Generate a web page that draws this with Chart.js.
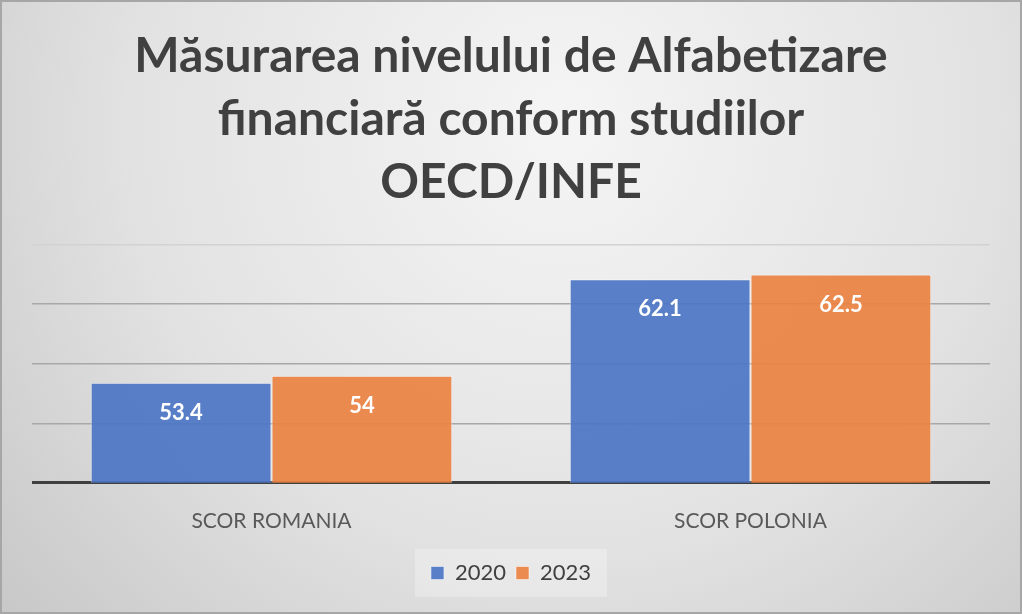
<!DOCTYPE html>
<html>
<head>
<meta charset="utf-8">
<script src="https://cdn.jsdelivr.net/npm/chart.js@4.4.1/dist/chart.umd.min.js"></script>
<style>
  html, body { margin: 0; padding: 0; background: #dcdcdc; }
  canvas { display: block; }
</style>
</head>
<body>
<canvas id="myChart" width="1022" height="614"></canvas>
<script>
const titleLines = ["Măsurarea nivelului de Alfabetizare", "financiară conform studiilor", "OECD/INFE"];
const categories = ["SCOR ROMANIA", "SCOR POLONIA"];
const seriesNames = ["2020", "2023"];
const values2020 = [53.4, 62.1];
const values2023 = [54, 62.5];
const labels2020 = ["53.4", "62.1"];
const labels2023 = ["54", "62.5"];

const FONT = "Lato, 'Open Sans', sans-serif";

// background gradient + frame + legend box
const backgroundPlugin = {
    id: 'bgPlugin',
    beforeDraw(chart) {
        const ctx = chart.ctx;
        const w = chart.width, h = chart.height;
        ctx.save();
        const g = ctx.createRadialGradient(w * 0.55, h * 0.2, 20, w * 0.55, h * 0.2, w * 0.75);
        g.addColorStop(0, '#f4f4f4');
        g.addColorStop(0.55, '#e2e2e2');
        g.addColorStop(1, '#c6c6c6');
        ctx.fillStyle = g;
        ctx.fillRect(0, 0, w, h);
        ctx.strokeStyle = '#a6a6a6';
        ctx.lineWidth = 2;
        ctx.strokeRect(1, 1, w - 2, h - 2);
        const lg = chart.legend;
        if (lg) {
            const cy = lg.top + lg.height / 2;
            ctx.fillStyle = 'rgba(255,255,255,0.28)';
            ctx.fillRect(lg.left + lg.width / 2 - 96, cy - 24, 192, 48);
        }
        ctx.restore();
    }
};

// value labels inside the top of the bars
const valueLabels = {
    id: 'valueLabels',
    afterDatasetsDraw(chart) {
        const ctx = chart.ctx;
        const texts = [labels2020, labels2023];
        ctx.save();
        ctx.font = "bold 22px " + FONT;
        ctx.fillStyle = '#ffffff';
        ctx.textAlign = 'center';
        ctx.textBaseline = 'middle';
        chart.data.datasets.forEach((ds, i) => {
            chart.getDatasetMeta(i).data.forEach((bar, j) => {
                ctx.fillText(texts[i][j], bar.x, bar.y + 30);
            });
        });
        ctx.restore();
    }
};

const ctx = document.getElementById('myChart').getContext('2d');
new Chart(ctx, {
    type: 'bar',
    data: {
        labels: categories,
        datasets: [
            {
                label: seriesNames[0],
                data: values2020,
                backgroundColor: 'rgba(76,117,198,0.92)',
                borderColor: 'rgba(255,255,255,0.5)',
                borderWidth: 1,
                categoryPercentage: 0.755,
                barPercentage: 1.0
            },
            {
                label: seriesNames[1],
                data: values2023,
                backgroundColor: 'rgba(236,130,66,0.92)',
                borderColor: 'rgba(255,255,255,0.5)',
                borderWidth: 1,
                categoryPercentage: 0.755,
                barPercentage: 1.0
            }
        ]
    },
    options: {
        responsive: false,
        animation: false,
        layout: { padding: { left: 32, right: 32, top: 0, bottom: 20 } },
        scales: {
            x: {
                grid: { display: false },
                border: { display: false },
                ticks: { color: '#595959', font: { family: FONT, size: 21 }, padding: 18 }
            },
            y: {
                min: 45,
                max: 65,
                ticks: { display: false, stepSize: 5 },
                border: { display: false },
                grid: {
                    drawTicks: false,
                    color: c => c.tick.value === 45 ? '#3f3f3f' : (c.tick.value === 65 ? '#d2d2d2' : '#a8a8a8'),
                    lineWidth: c => c.tick.value === 45 ? 3 : 1.5
                }
            }
        },
        plugins: {
            title: {
                display: true,
                text: titleLines,
                color: '#404040',
                font: { family: FONT, size: 48, weight: 'bold', lineHeight: 1.31 },
                padding: { top: 25, bottom: 31 }
            },
            legend: {
                position: 'bottom',
                labels: {
                    color: '#404040',
                    font: { family: FONT, size: 22 },
                    boxWidth: 13,
                    boxHeight: 13,
                    padding: 10
                }
            },
            tooltip: { enabled: false }
        }
    },
    plugins: [backgroundPlugin, valueLabels]
});
</script>
</body>
</html>
